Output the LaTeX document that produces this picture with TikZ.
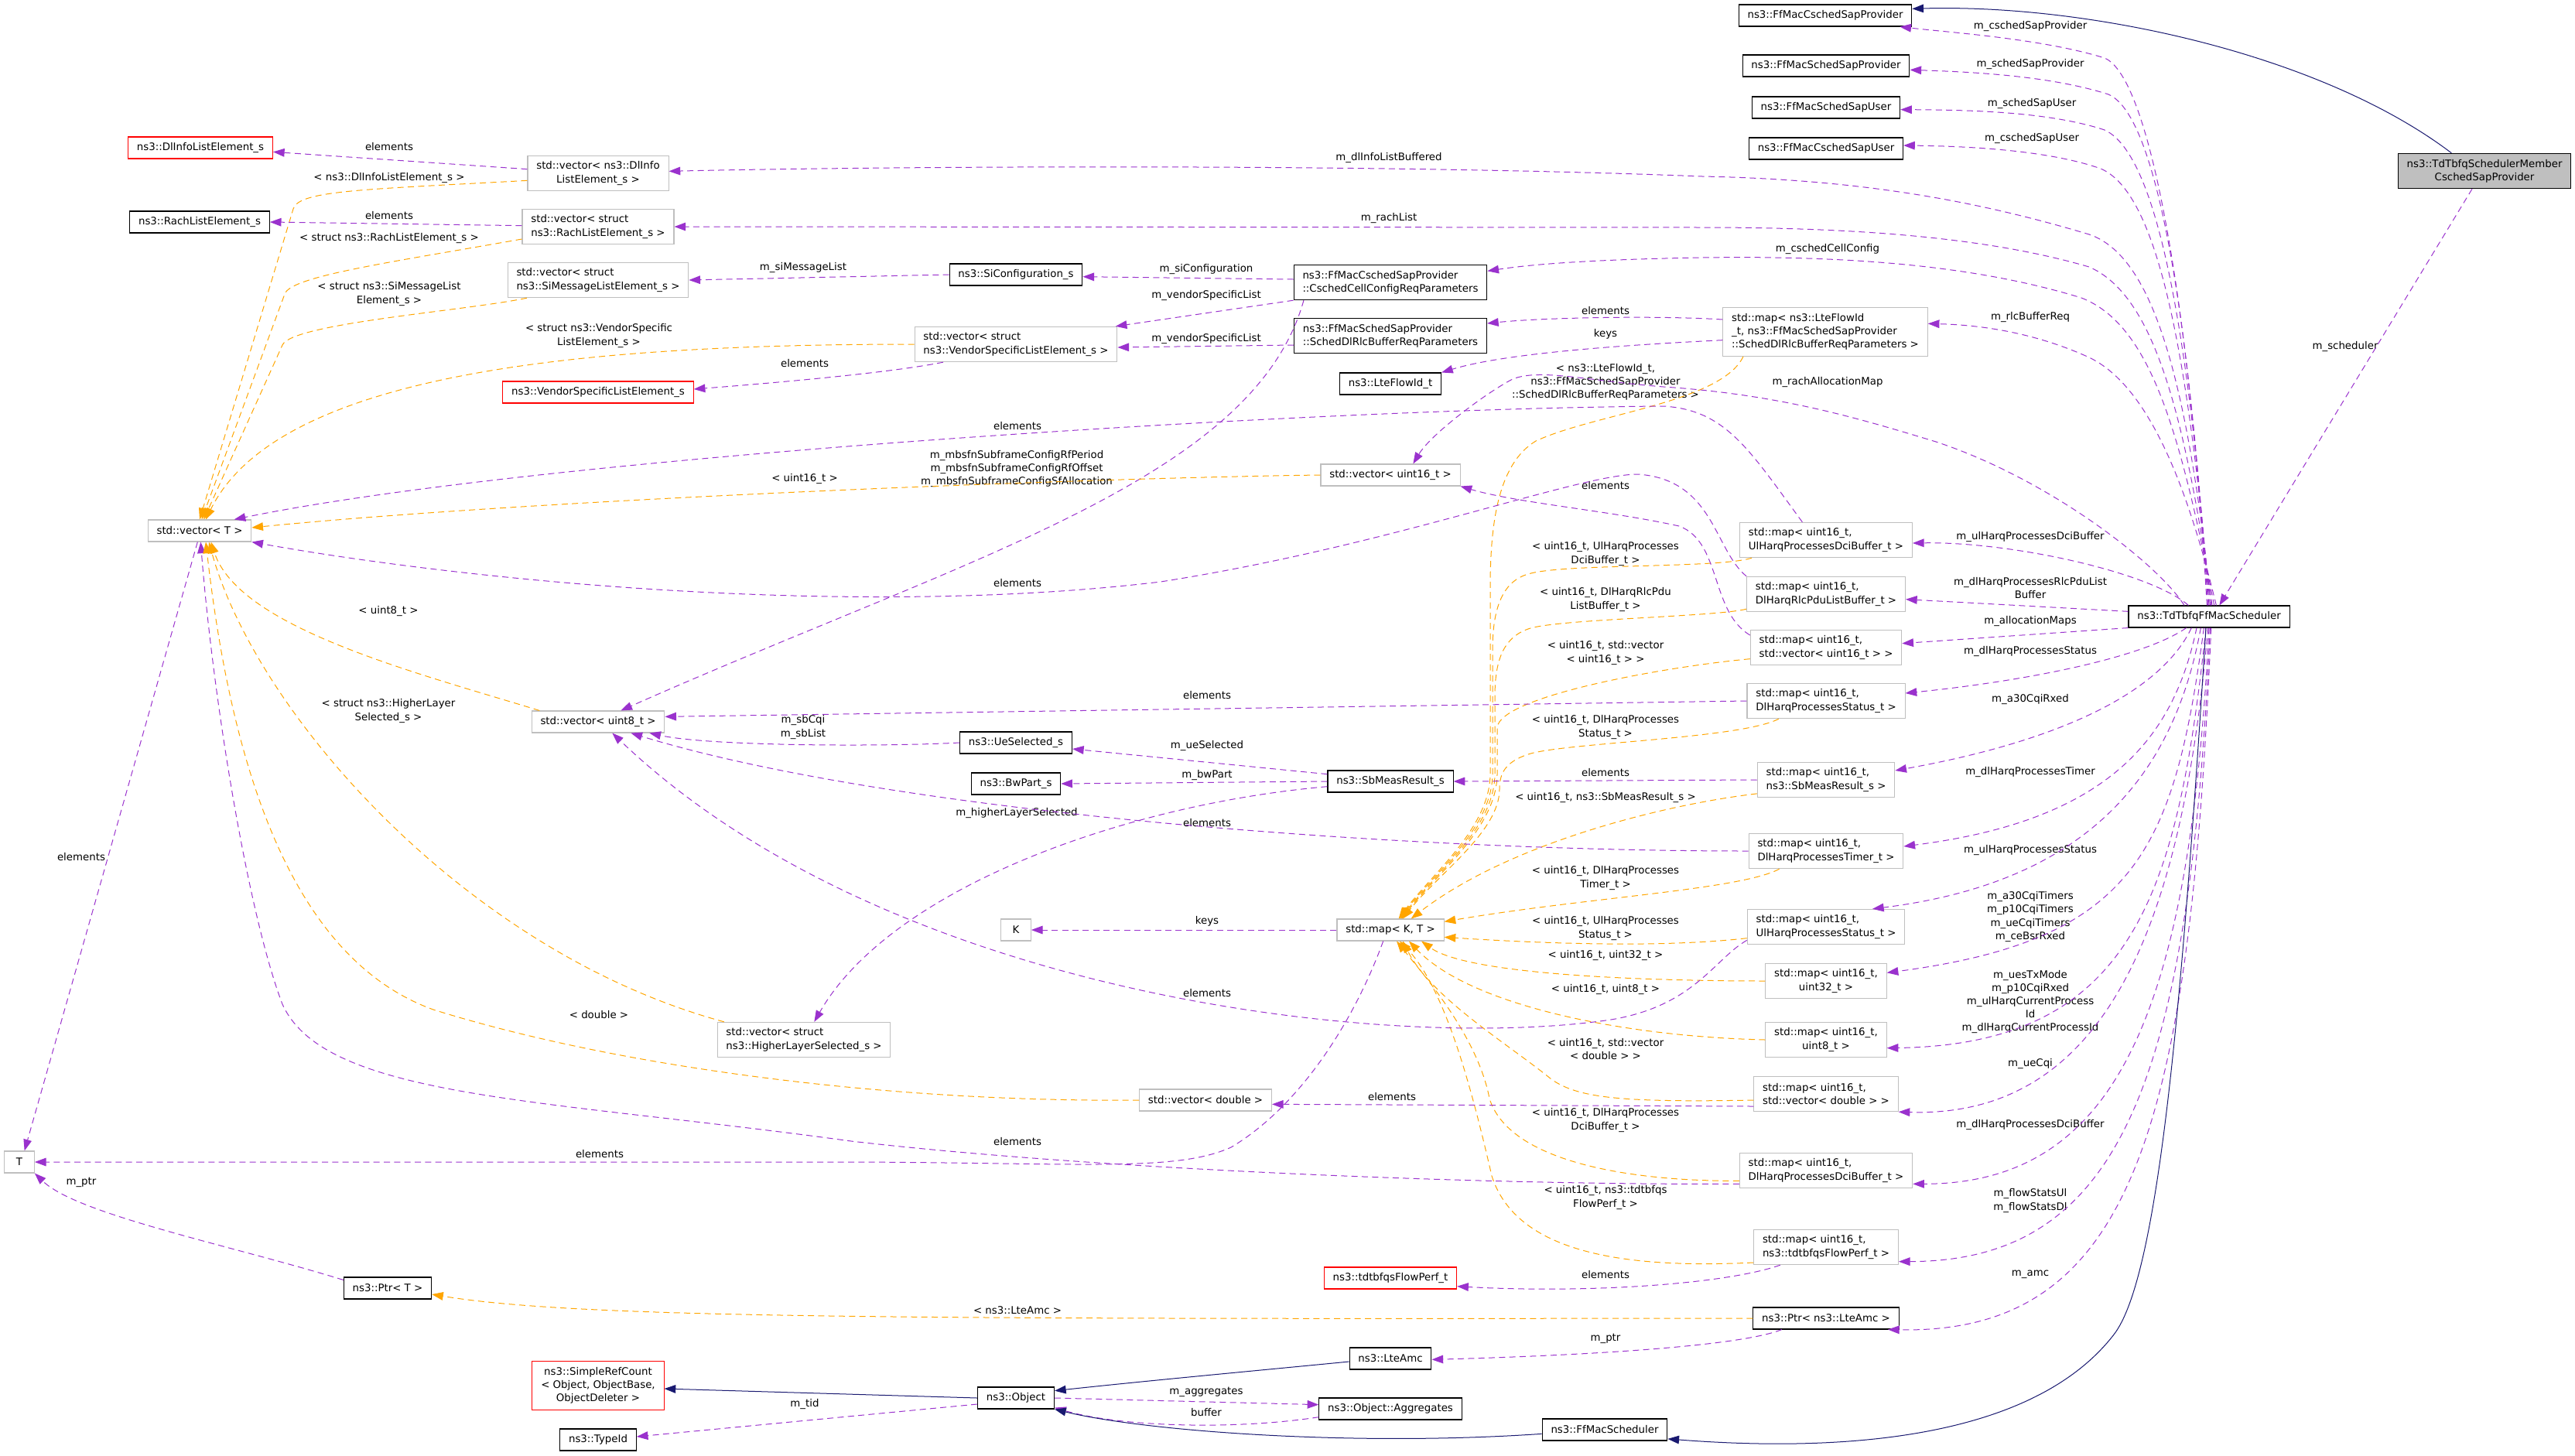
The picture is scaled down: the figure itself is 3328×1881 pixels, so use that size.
\documentclass[tikz,border=0pt]{standalone}
\usepackage{fontspec}
\setmainfont{DejaVu Sans}
\usetikzlibrary{arrows.meta}
\definecolor{usecol}{HTML}{9A32CD}
\definecolor{tplcol}{HTML}{FFA500}
\definecolor{inhcol}{HTML}{191970}
\definecolor{boxgray}{HTML}{BFBFBF}

\begin{document}
\begin{tikzpicture}[
        x=0.75pt, y=-0.75pt,
        font=\fontsize{10}{12.8}\selectfont,
        cls/.style={draw=black, line width=0.8pt, fill=white, align=center,
            inner xsep=8.5pt, inner ysep=2pt, minimum height=21pt},
        gry/.style={cls, draw=boxgray},
        miss/.style={cls, draw=red},
        two/.style={minimum height=34pt},
        three/.style={minimum height=47pt},
        lft/.style={align=left},
        lbl/.style={align=center, inner sep=0pt},
        memb/.style={usecol, line width=0.75pt, dash pattern=on 6pt off 4pt,
            -{Triangle[length=11pt,width=8pt]}},
        tmpl/.style={memb, tplcol},
        inhr/.style={inhcol, line width=0.75pt, -{Triangle[length=11pt,width=8pt]}}
    ]
    \useasboundingbox (0,0) rectangle (3328,1881);

    \node[miss] (dlinfoel) at (259,191) {ns3::DlInfoListElement\_s};
    \node[cls] (rachel) at (258,287) {ns3::RachListElement\_s};
    \node[gry] (vect) at (258,686) {std::vector< T >};
    \node[gry, minimum width=29pt] (tparam) at (25,1502) {T};
    \node[cls] (ptrt) at (501,1665) {ns3::Ptr< T >};

    \node[gry, two] (vecdlinfo) at (773,224) {std::vector< ns3::DlInfo\\ListElement\_s >};
    \node[gry, two, lft] (vecrach) at (773,293) {std::vector< struct\\ns3::RachListElement\_s >};
    \node[gry, two, lft] (vecsimsg) at (773,362) {std::vector< struct\\ns3::SiMessageListElement\_s >};
    \node[miss] (vendorel) at (773,507) {ns3::VendorSpecificListElement\_s};
    \node[gry] (vecuint8) at (773,933) {std::vector< uint8\_t >};
    \node[miss, three] (simplerc) at (773,1791) {ns3::SimpleRefCount\\< Object, ObjectBase,\\ObjectDeleter >};
    \node[cls] (typeid) at (773,1861) {ns3::TypeId};

    \node[cls] (siconf) at (1313,355) {ns3::SiConfiguration\_s};
    \node[gry, two, lft] (vecvendor) at (1313,445) {std::vector< struct\\ns3::VendorSpecificListElement\_s >};
    \node[cls] (uesel) at (1313,960) {ns3::UeSelected\_s};
    \node[cls] (bwpart) at (1313,1013) {ns3::BwPart\_s};
    \node[gry, minimum width=29pt] (kparam) at (1313,1202) {K};
    \node[gry, two, lft] (vechigher) at (1039,1344) {std::vector< struct\\ns3::HigherLayerSelected\_s >};
    \node[cls] (object) at (1313,1807) {ns3::Object};
    \node[gry] (vecdouble) at (1558,1422) {std::vector< double >};

    \node[cls, two, lft] (cschedcell) at (1797,365) {ns3::FfMacCschedSapProvider\\::CschedCellConfigReqParameters};
    \node[cls, two, lft] (schedrlc) at (1797,434) {ns3::FfMacSchedSapProvider\\::SchedDlRlcBufferReqParameters};
    \node[cls] (lteflowid) at (1797,496) {ns3::LteFlowId\_t};
    \node[gry] (vecuint16) at (1797,614) {std::vector< uint16\_t >};
    \node[cls] (sbmeas) at (1797,1010) {ns3::SbMeasResult\_s};
    \node[gry] (mapkt) at (1797,1202) {std::map< K, T >};
    \node[miss] (flowperf) at (1797,1652) {ns3::tdtbfqsFlowPerf\_t};
    \node[cls] (lteamc) at (1797,1756) {ns3::LteAmc};
    \node[cls] (aggregates) at (1797,1821) {ns3::Object::Aggregates};
    \node[cls] (ffmacsched) at (2074,1848) {ns3::FfMacScheduler};

    \node[cls] (cschedprov) at (2359,20) {ns3::FfMacCschedSapProvider};
    \node[cls] (schedprov) at (2360,85) {ns3::FfMacSchedSapProvider};
    \node[cls] (scheduser) at (2360,139) {ns3::FfMacSchedSapUser};
    \node[cls] (cscheduser) at (2360,192) {ns3::FfMacCschedSapUser};
    \node[gry, three, lft] (mapflowid) at (2359,429) {std::map< ns3::LteFlowId\\\_t, ns3::FfMacSchedSapProvider\\::SchedDlRlcBufferReqParameters >};
    \node[gry, two, lft] (mapulhdci) at (2360,698) {std::map< uint16\_t,\\UlHarqProcessesDciBuffer\_t >};
    \node[gry, two, lft] (maprlcpdu) at (2360,768) {std::map< uint16\_t,\\DlHarqRlcPduListBuffer\_t >};
    \node[gry, two, lft] (mapvecu16) at (2360,837) {std::map< uint16\_t,\\std::vector< uint16\_t > >};
    \node[gry, two, lft] (mapdlhstat) at (2360,906) {std::map< uint16\_t,\\DlHarqProcessesStatus\_t >};
    \node[gry, two, lft] (mapsbmeas) at (2360,1008) {std::map< uint16\_t,\\ns3::SbMeasResult\_s >};
    \node[gry, two, lft] (mapdlhtimer) at (2360,1100) {std::map< uint16\_t,\\DlHarqProcessesTimer\_t >};
    \node[gry, two, lft] (mapulhstat) at (2360,1198) {std::map< uint16\_t,\\UlHarqProcessesStatus\_t >};
    \node[gry, two] (mapu32) at (2360,1268) {std::map< uint16\_t,\\uint32\_t >};
    \node[gry, two] (mapu8) at (2360,1344) {std::map< uint16\_t,\\uint8\_t >};
    \node[gry, two, lft] (mapvecdbl) at (2360,1414) {std::map< uint16\_t,\\std::vector< double > >};
    \node[gry, two, lft] (mapdlhdci) at (2360,1513) {std::map< uint16\_t,\\DlHarqProcessesDciBuffer\_t >};
    \node[gry, two, lft] (mapflowperf) at (2360,1612) {std::map< uint16\_t,\\ns3::tdtbfqsFlowPerf\_t >};
    \node[cls] (ptrlteamc) at (2360,1704) {ns3::Ptr< ns3::LteAmc >};

    \node[cls] (sched) at (2855,797) {ns3::TdTbfqFfMacScheduler};
    \node[cls, two, fill=boxgray] (member) at (3211,221) {ns3::TdTbfqSchedulerMember\\CschedSapProvider};

    \node[lbl] (t01) at (503,190) {elements};
    \node[lbl] (t02) at (503,230) {< ns3::DlInfoListElement\_s >};
    \node[lbl] (t03) at (503,279) {elements};
    \node[lbl] (t04) at (503,308) {< struct ns3::RachListElement\_s >};
    \node[lbl] (t05) at (503,380) {< struct ns3::SiMessageList\\Element\_s >};
    \node[lbl] (t06) at (774,434) {< struct ns3::VendorSpecific\\ListElement\_s >};
    \node[lbl] (t07) at (1040,470) {elements};
    \node[lbl] (t08) at (1038,346) {m\_siMessageList};
    \node[lbl] (t09) at (1040,619) {< uint16\_t >};
    \node[lbl] (t10) at (1559,348) {m\_siConfiguration};
    \node[lbl] (t11) at (1559,382) {m\_vendorSpecificList};
    \node[lbl] (t12) at (1559,438) {m\_vendorSpecificList};
    \node[lbl] (t13) at (2075,402) {elements};
    \node[lbl] (t14) at (2075,432) {keys};
    \node[lbl] (t15) at (2075,494) {< ns3::LteFlowId\_t,\\ns3::FfMacSchedSapProvider\\::SchedDlRlcBufferReqParameters >};
    \node[lbl] (t16) at (1315,551) {elements};
    \node[lbl] (t17) at (1314,606) {m\_mbsfnSubframeConfigRfPeriod\\m\_mbsfnSubframeConfigRfOffset\\m\_mbsfnSubframeConfigSfAllocation};
    \node[lbl] (t18) at (2075,628) {elements};
    \node[lbl] (t19) at (2075,716) {< uint16\_t, UlHarqProcesses\\DciBuffer\_t >};
    \node[lbl] (t20) at (2075,775) {< uint16\_t, DlHarqRlcPdu\\ListBuffer\_t >};
    \node[lbl] (t21) at (2075,844) {< uint16\_t, std::vector\\< uint16\_t > >};
    \node[lbl] (t22) at (1560,899) {elements};
    \node[lbl] (t23) at (2075,940) {< uint16\_t, DlHarqProcesses\\Status\_t >};
    \node[lbl] (t24) at (1560,964) {m\_ueSelected};
    \node[lbl] (t25) at (1560,1002) {m\_bwPart};
    \node[lbl] (t26) at (2075,999) {elements};
    \node[lbl] (t27) at (2075,1031) {< uint16\_t, ns3::SbMeasResult\_s >};
    \node[lbl] (t28) at (1314,1051) {m\_higherLayerSelected};
    \node[lbl] (t29) at (1560,1064) {elements};
    \node[lbl] (t30) at (2075,1135) {< uint16\_t, DlHarqProcesses\\Timer\_t >};
    \node[lbl] (t31) at (1560,1191) {keys};
    \node[lbl] (t32) at (2075,1200) {< uint16\_t, UlHarqProcesses\\Status\_t >};
    \node[lbl] (t33) at (2075,1235) {< uint16\_t, uint32\_t >};
    \node[lbl] (t34) at (2075,1279) {< uint16\_t, uint8\_t >};
    \node[lbl] (t35) at (1560,1284) {elements};
    \node[lbl] (t36) at (2075,1356) {< uint16\_t, std::vector\\< double > >};
    \node[lbl] (t37) at (1315,754) {elements};
    \node[lbl] (t38) at (502,790) {< uint8\_t >};
    \node[lbl] (t39) at (502,919) {< struct ns3::HigherLayer\\Selected\_s >};
    \node[lbl] (t40) at (105,1108) {elements};
    \node[lbl] (t41) at (1038,940) {m\_sbCqi\\m\_sbList};
    \node[lbl] (t42) at (774,1312) {< double >};
    \node[lbl] (t43) at (1799,1418) {elements};
    \node[lbl] (t44) at (2075,1448) {< uint16\_t, DlHarqProcesses\\DciBuffer\_t >};
    \node[lbl] (t45) at (1315,1476) {elements};
    \node[lbl] (t46) at (2075,1548) {< uint16\_t, ns3::tdtbfqs\\FlowPerf\_t >};
    \node[lbl] (t47) at (2075,1648) {elements};
    \node[lbl] (t48) at (1315,1694) {< ns3::LteAmc >};
    \node[lbl] (t49) at (2075,1730) {m\_ptr};
    \node[lbl] (t50) at (1559,1799) {m\_aggregates};
    \node[lbl] (t51) at (1559,1826) {buffer};
    \node[lbl] (t52) at (775,1492) {elements};
    \node[lbl] (t53) at (105,1528) {m\_ptr};
    \node[lbl] (t54) at (1040,1815) {m\_tid};
    \node[lbl] (t55) at (2624,34) {m\_cschedSapProvider};
    \node[lbl] (t56) at (2624,83) {m\_schedSapProvider};
    \node[lbl] (t57) at (2626,134) {m\_schedSapUser};
    \node[lbl] (t58) at (2626,179) {m\_cschedSapUser};
    \node[lbl] (t59) at (1795,204) {m\_dlInfoListBuffered};
    \node[lbl] (t60) at (1795,282) {m\_rachList};
    \node[lbl] (t61) at (2362,322) {m\_cschedCellConfig};
    \node[lbl] (t62) at (2624,410) {m\_rlcBufferReq};
    \node[lbl] (t63) at (2362,494) {m\_rachAllocationMap};
    \node[lbl] (t64) at (3031,448) {m\_scheduler};
    \node[lbl] (t65) at (2624,694) {m\_ulHarqProcessesDciBuffer};
    \node[lbl] (t66) at (2624,760) {m\_dlHarqProcessesRlcPduList\\Buffer};
    \node[lbl] (t67) at (2624,803) {m\_allocationMaps};
    \node[lbl] (t68) at (2624,842) {m\_dlHarqProcessesStatus};
    \node[lbl] (t69) at (2624,904) {m\_a30CqiRxed};
    \node[lbl] (t70) at (2624,998) {m\_dlHarqProcessesTimer};
    \node[lbl] (t71) at (2624,1099) {m\_ulHarqProcessesStatus};
    \node[lbl] (t72) at (2624,1185) {m\_a30CqiTimers\\m\_p10CqiTimers\\m\_ueCqiTimers\\m\_ceBsrRxed};
    \node[lbl] (t73) at (2624,1295) {m\_uesTxMode\\m\_p10CqiRxed\\m\_ulHarqCurrentProcess\\Id\\m\_dlHarqCurrentProcessId};
    \node[lbl] (t74) at (2624,1375) {m\_ueCqi};
    \node[lbl] (t75) at (2624,1454) {m\_dlHarqProcessesDciBuffer};
    \node[lbl] (t76) at (2624,1552) {m\_flowStatsUl\\m\_flowStatsDl};
    \node[lbl] (t77) at (2624,1647) {m\_amc};

    \draw[memb] ([yshift=4pt]vecdlinfo.west) -- ([yshift=-4pt]dlinfoel.east);
    \draw[tmpl] ([yshift=-7pt]vecdlinfo.west) .. controls (470,245) and (386,246) .. (379,270) -- (vect.north);
    \draw[memb] ([yshift=1pt]vecrach.west) -- (rachel.east);
    \draw[tmpl] ([yshift=-12pt]vecrach.west) .. controls (500,340) and (376,357) .. (368,380) -- ([xshift=2pt]vect.north);
    \draw[tmpl] ([xshift=19pt]vecsimsg.south west) .. controls (600,402) and (377,418) .. (365,446) -- ([xshift=4pt]vect.north);
    \draw[tmpl] (vecvendor.west) .. controls (760,445) and (360,480) .. ([xshift=6pt]vect.north);
    \draw[memb] ([xshift=28pt]vecvendor.south west) .. controls (1150,482) and (1000,495) .. ([yshift=3pt]vendorel.east);
    \draw[memb] (siconf.west) -- (vecsimsg.east);
    \draw[memb] ([yshift=3pt]cschedcell.west) -- ([yshift=-2pt]siconf.east);
    \draw[memb] (cschedcell.south west) -- ([xshift=-2pt]vecvendor.north east);
    \draw[memb] ([yshift=-9pt]schedrlc.west) -- ([yshift=-3pt]vecvendor.east);
    \draw[memb] ([xshift=10pt]cschedcell.south west) .. controls (1620,620) and (1250,720) .. ([xshift=22pt]vecuint8.north);

    \draw[memb] ([yshift=12pt]mapflowid.west) .. controls (2150,408) and (2000,410) .. ([yshift=12pt]schedrlc.east);
    \draw[memb] ([yshift=-8pt]mapflowid.west) .. controls (2120,445) and (1950,455) .. (lteflowid.north east);
    \draw[tmpl] ([xshift=20pt]mapflowid.south west) .. controls (2225,520) and (2060,535) .. (1985,570) .. controls (1935,600) and (1926,680) .. (1926,760) -- (1926,1000) .. controls (1926,1070) and (1850,1130) .. ([xshift=8pt]mapkt.north);
    \draw[tmpl] ([xshift=12pt]mapulhdci.south west) .. controls (2220,735) and (2020,728) .. (1975,742) .. controls (1940,752) and (1929,790) .. (1929,840) -- (1929,1000) .. controls (1929,1070) and (1852,1130) .. ([xshift=9pt]mapkt.north);
    \draw[tmpl] ([yshift=3pt]maprlcpdu.south west) .. controls (2220,797) and (2020,800) .. (1978,812) .. controls (1945,822) and (1932,850) .. (1932,900) -- (1932,1000) .. controls (1932,1070) and (1854,1130) .. ([xshift=10pt]mapkt.north);
    \draw[tmpl] ([yshift=-11pt]mapvecu16.west) .. controls (2150,862) and (1940,900) .. (1935,940) -- (1935,1000) .. controls (1935,1070) and (1856,1130) .. ([xshift=11pt]mapkt.north);
    \draw[tmpl] ([xshift=31pt]mapdlhstat.south west) .. controls (2250,955) and (2020,960) .. (1975,975) .. controls (1945,985) and (1938,1000) .. (1938,1020) .. controls (1938,1075) and (1858,1130) .. ([xshift=12pt]mapkt.north);
    \draw[tmpl] ([yshift=4pt]mapsbmeas.south west) .. controls (2150,1040) and (1950,1090) .. ([xshift=20pt]mapkt.north);
    \draw[tmpl] ([xshift=30pt]mapdlhtimer.south west) .. controls (2250,1150) and (2050,1160) .. ([yshift=8pt]mapkt.east);
    \draw[tmpl] ([yshift=-11pt]mapulhstat.west) .. controls (2150,1225) and (2000,1220) .. ([yshift=-7pt]mapkt.east);
    \draw[tmpl] (mapu32.west) .. controls (2150,1268) and (1900,1262) .. ([xshift=30pt]mapkt.south);
    \draw[tmpl] (mapu8.west) .. controls (2100,1340) and (1900,1300) .. ([xshift=18pt]mapkt.south);
    \draw[tmpl] ([yshift=-6pt]mapvecdbl.west) .. controls (2100,1425) and (2040,1420) .. (2005,1395) .. controls (1950,1350) and (1850,1290) .. ([xshift=12pt]mapkt.south);
    \draw[tmpl] ([yshift=-10pt]mapdlhdci.west) .. controls (2100,1527) and (1950,1500) .. (1925,1420) .. controls (1910,1340) and (1840,1260) .. ([xshift=6pt]mapkt.south);
    \draw[tmpl] ([yshift=-15pt]mapflowperf.west) .. controls (2100,1640) and (1960,1620) .. (1928,1520) .. controls (1905,1420) and (1870,1280) .. ([xshift=9pt]mapkt.south);

    \draw[tmpl] (vecuint16.west) .. controls (1400,618) and (700,645) .. ([yshift=3pt]vect.east);
    \draw[memb] ([yshift=12pt]mapvecu16.west) .. controls (2210,790) and (2225,700) .. (2170,680) .. controls (2080,660) and (1960,650) .. (vecuint16.south east);

    \draw[memb] ([xshift=-2pt]vect.south) -- ([xshift=5pt]tparam.north);
    \draw[memb] ([yshift=-3pt]ptrt.north west) .. controls (300,1610) and (100,1570) .. (tparam.south east);
    \draw[memb] ([xshift=-7pt]mapkt.south) .. controls (1750,1320) and (1680,1430) .. (1591,1483) .. controls (1520,1515) and (1400,1503) .. (1100,1502) -- (tparam.east);
    \draw[memb] (mapkt.west) -- (kparam.east);
    \draw[memb] ([xshift=-23pt]mapulhdci.north) .. controls (2260,580) and (2230,530) .. (2150,525) .. controls (1700,528) and (700,590) .. ([xshift=-17pt]vect.north east);
    \draw[memb] (maprlcpdu.north west) .. controls (2215,710) and (2215,620) .. (2117,613) .. controls (2040,613) and (1800,705) .. (1500,752) .. controls (1100,800) and (600,750) .. (vect.south east);
    \draw[memb] ([yshift=-13pt]mapdlhdci.west) .. controls (1900,1532) and (1400,1510) .. (1100,1475) .. controls (700,1420) and (420,1420) .. (365,1298) .. controls (320,1180) and (275,900) .. ([xshift=1pt]vect.south);
    \draw[tmpl] (vecdouble.west) .. controls (1150,1425) and (800,1380) .. (560,1305) .. controls (380,1240) and (300,1000) .. ([xshift=6pt]vect.south);
    \draw[tmpl] ([xshift=7pt]vechigher.north west) .. controls (600,1230) and (330,919) .. ([xshift=9pt]vect.south);
    \draw[tmpl] ([xshift=8pt]vecuint8.north west) .. controls (540,870) and (309,812) .. ([xshift=11pt]vect.south);

    \draw[memb] ([yshift=7pt]sbmeas.west) -- ([yshift=-6pt]uesel.east);
    \draw[memb] (sbmeas.west) -- (bwpart.east);
    \draw[memb] ([yshift=-5pt]sbmeas.west) .. controls (1450,1040) and (1150,1150) .. ([xshift=10pt]vechigher.north);
    \draw[memb] (mapsbmeas.west) -- (sbmeas.east);
    \draw[memb] (uesel.west) .. controls (1150,965) and (920,965) .. ([xshift=-15pt]vecuint8.south east);
    \draw[memb] (mapdlhstat.west) -- ([yshift=5pt]vecuint8.east);
    \draw[memb] (mapdlhtimer.west) .. controls (1800,1100) and (1150,1050) .. ([xshift=-33pt]vecuint8.south east);
    \draw[memb] ([yshift=-13pt]mapulhstat.west) .. controls (2215,1240) and (2190,1300) .. (2082,1318) .. controls (1800,1360) and (1150,1290) .. ([xshift=-51pt]vecuint8.south east);

    \draw[memb] ([xshift=-2pt]sched.north) .. controls (2830,400) and (2780,100) .. (2720,75) .. controls (2640,50) and (2520,42) .. ([xshift=-12pt]cschedprov.south east);
    \draw[memb] ([xshift=-1pt]sched.north) .. controls (2830,420) and (2790,150) .. (2725,122) .. controls (2650,98) and (2550,93) .. ([yshift=-4pt]schedprov.east);
    \draw[memb] (sched.north) .. controls (2830,440) and (2790,200) .. (2720,168) .. controls (2650,145) and (2550,142) .. ([yshift=-2pt]scheduser.east);
    \draw[memb] ([xshift=1pt]sched.north) .. controls (2828,460) and (2790,250) .. (2715,218) .. controls (2650,195) and (2550,189) .. ([yshift=3pt]cscheduser.east);
    \draw[memb] ([xshift=2pt]sched.north) .. controls (2826,480) and (2780,330) .. (2700,303) .. controls (2550,258) and (2400,232) .. (2200,228) .. controls (1800,212) and (1200,214) .. ([yshift=2pt]vecdlinfo.east);
    \draw[memb] ([xshift=3pt]sched.north) .. controls (2822,520) and (2780,380) .. (2700,345) .. controls (2580,310) and (2420,294) .. (2200,294) -- (vecrach.east);
    \draw[memb] ([xshift=5pt]sched.north) .. controls (2818,560) and (2780,420) .. (2690,385) .. controls (2560,345) and (2400,330) .. (2200,333) .. controls (2080,335) and (1990,340) .. ([yshift=11pt]cschedcell.east);
    \draw[memb] ([xshift=7pt]sched.north) .. controls (2830,640) and (2780,500) .. (2700,462) .. controls (2630,430) and (2560,420) .. ([yshift=8pt]mapflowid.east);
    \draw[memb] ([xshift=-24pt]sched.north) .. controls (2790,730) and (2650,620) .. (2502,571) .. controls (2400,540) and (2300,510) .. (2150,500) .. controls (2050,492) and (1990,476) .. (1955,490) .. controls (1925,505) and (1850,560) .. ([xshift=22pt]vecuint16.north);
    \draw[memb] ([xshift=-20pt]sched.north) .. controls (2780,740) and (2600,700) .. ([yshift=-3pt]mapulhdci.east);
    \draw[memb] ([yshift=5pt]sched.west) -- ([yshift=-5pt]maprlcpdu.east);
    \draw[memb] (sched.south west) -- ([yshift=4pt]mapvecu16.east);
    \draw[memb] ([xshift=-22pt]sched.south) .. controls (2770,850) and (2620,880) .. ([yshift=7.5pt]mapdlhstat.east);
    \draw[memb] ([xshift=-17pt]sched.south) .. controls (2790,900) and (2650,960) .. ([yshift=9pt]mapsbmeas.east);
    \draw[memb] ([xshift=-12pt]sched.south) .. controls (2810,950) and (2730,1060) .. ([yshift=4.5pt]mapdlhtimer.east);
    \draw[memb] ([xshift=-8pt]sched.south) .. controls (2810,1000) and (2700,1140) .. ([xshift=45pt]mapulhstat.north);
    \draw[memb] ([xshift=-5pt]sched.south) .. controls (2810,1100) and (2760,1215) .. ([yshift=8pt]mapu32.east);
    \draw[memb] ([xshift=-3pt]sched.south) .. controls (2815,1150) and (2760,1350) .. ([yshift=-8pt]mapu8.east);
    \draw[memb] ([xshift=-1pt]sched.south) .. controls (2820,1200) and (2720,1445) .. (mapvecdbl.south east);
    \draw[memb] (sched.south) .. controls (2830,1300) and (2740,1530) .. ([yshift=-13pt]mapdlhdci.east);
    \draw[memb] ([xshift=1pt]sched.south) .. controls (2830,1400) and (2740,1630) .. ([yshift=-14pt]mapflowperf.east);
    \draw[memb] ([xshift=2pt]sched.south) .. controls (2830,1450) and (2760,1725) .. ([xshift=-11pt]ptrlteamc.south east);
    \draw[inhr] ([xshift=-3pt]sched.south) .. controls (2820,1300) and (2790,1650) .. (2732,1725) .. controls (2620,1870) and (2350,1875) .. ([yshift=2pt]ffmacsched.south east);

    \draw[inhr] ([xshift=-32pt]member.north) .. controls (3000,70) and (2700,5) .. ([yshift=6.5pt]cschedprov.east);
    \draw[memb] ([xshift=-12pt]member.south) -- ([xshift=10pt]sched.north);

    \draw[memb] ([xshift=28pt]ptrlteamc.south west) .. controls (2250,1740) and (2050,1752) .. ([yshift=-1pt]lteamc.east);
    \draw[tmpl] (ptrlteamc.west) .. controls (1200,1705) and (750,1705) .. ([yshift=-6pt]ptrt.east);
    \draw[inhr] ([yshift=-3pt]lteamc.west) .. controls (1620,1772) and (1480,1785) .. ([yshift=7pt]object.east);
    \draw[inhr] (object.west) -- ([yshift=-3pt]simplerc.east);
    \draw[memb] ([yshift=-6pt]object.west) -- ([yshift=3pt]typeid.east);
    \draw[memb] (object.east) -- ([yshift=4pt]aggregates.west);
    \draw[memb] ([yshift=-8pt]aggregates.west) .. controls (1600,1848) and (1450,1845) .. ([yshift=1.5pt]object.south east);
    \draw[inhr] ([yshift=-4pt]ffmacsched.west) .. controls (1750,1870) and (1480,1850) .. (object.south east);
    \draw[memb] ([xshift=26pt]mapflowperf.south west) .. controls (2230,1660) and (2050,1672) .. ([yshift=-8pt]flowperf.east);
    \draw[memb] ([yshift=-12pt]mapvecdbl.west) -- ([yshift=-4pt]vecdouble.east);
\end{tikzpicture}
\end{document}
